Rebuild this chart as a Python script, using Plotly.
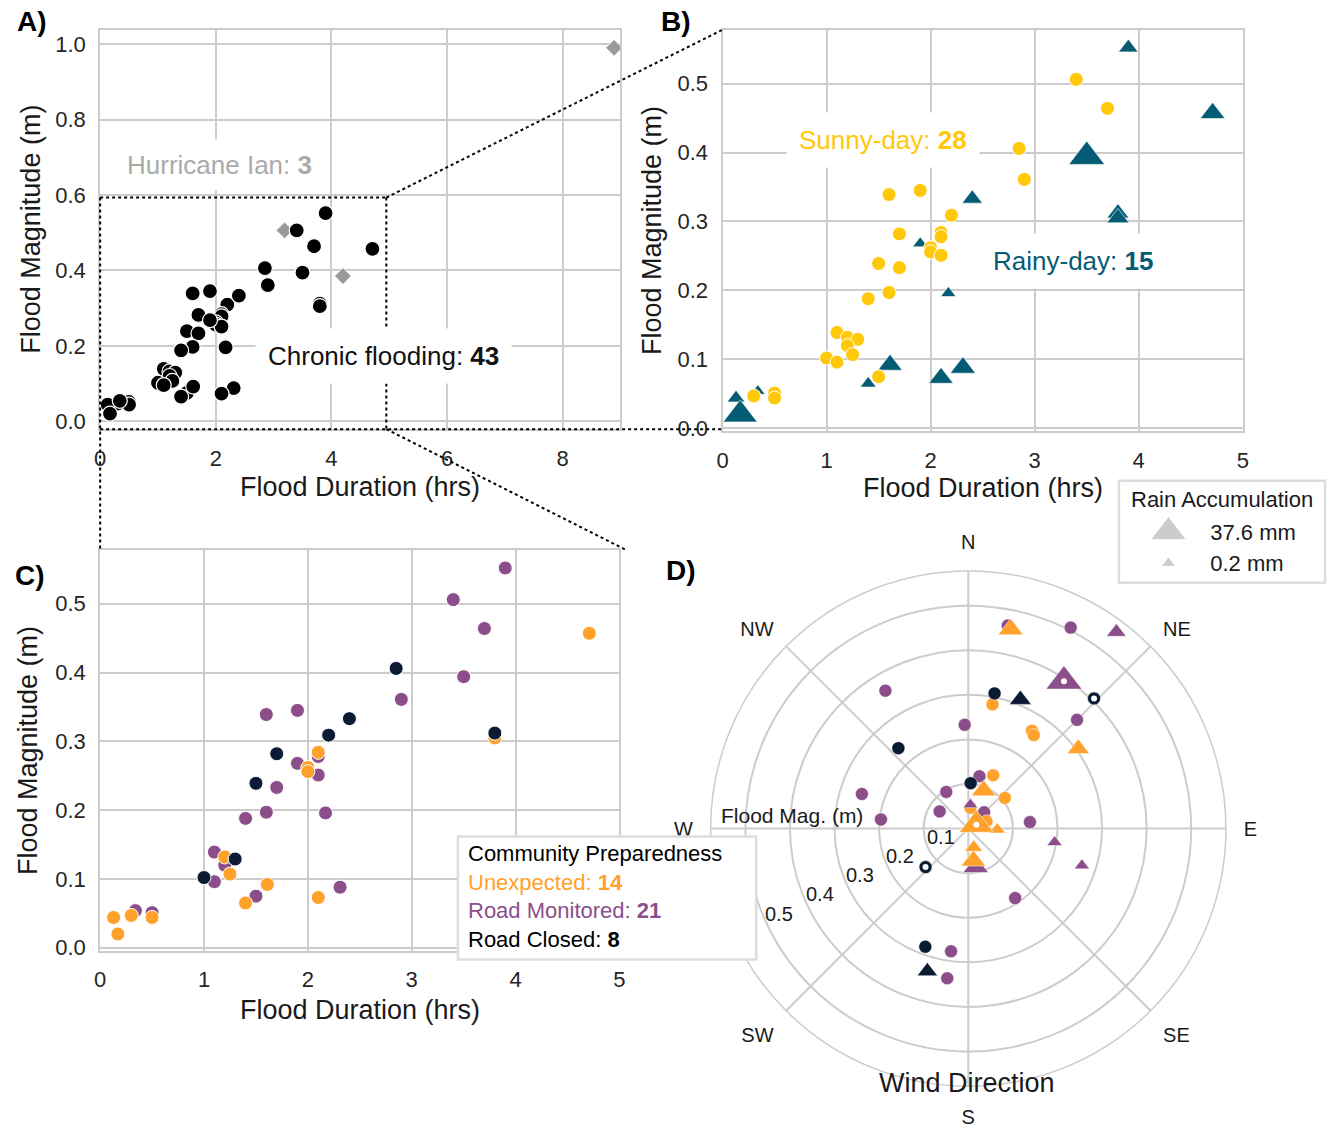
import math
import plotly.graph_objects as go

W, H = 1338, 1129

# ---------------- data ----------------
# 43 chronic flooding events (28 sunny-day first, then 15 rainy-day)
duration = [3.40, 3.70, 2.85, 2.90, 1.90, 1.60, 2.20, 1.70, 2.10, 2.10, 2.00, 2.00, 2.10, 1.50,
            1.70, 1.60, 1.40, 1.10, 1.20, 1.30, 1.20, 1.25, 1.00, 1.10, 1.50, 0.30, 0.50, 0.50,
            3.90, 4.71, 3.50, 3.80, 3.80, 2.40, 1.90, 2.17, 1.61, 2.31, 2.10, 1.40, 0.13, 0.17, 0.34]
magnitude = [0.506, 0.464, 0.406, 0.361, 0.345, 0.339, 0.309, 0.282, 0.284, 0.278, 0.262, 0.256, 0.251, 0.239,
             0.233, 0.197, 0.188, 0.139, 0.132, 0.129, 0.120, 0.107, 0.102, 0.096, 0.075, 0.047, 0.051, 0.044,
             0.552, 0.457, 0.394, 0.312, 0.305, 0.333, 0.268, 0.196, 0.092, 0.088, 0.073, 0.065, 0.044, 0.020, 0.054]
rain_mm = [0, 0, 0, 0, 0, 0, 0, 0, 0, 0, 0, 0, 0, 0,
           0, 0, 0, 0, 0, 0, 0, 0, 0, 0, 0, 0, 0, 0,
           6.2, 14.3, 37.6, 9.6, 10.0, 7.4, 1.0, 1.0, 13.6, 15.1, 13.6, 1.8, 4.0, 33.3, 0.2]
preparedness = ["Road Monitored", "Road Monitored", "Road Closed", "Road Monitored", "Road Monitored",
                "Road Monitored", "Road Closed", "Road Closed", "Unexpected", "Road Monitored",
                "Unexpected", "Unexpected", "Road Monitored", "Road Closed", "Road Monitored",
                "Road Monitored", "Road Monitored", "Road Monitored", "Unexpected", "Road Closed",
                "Road Monitored", "Unexpected", "Road Closed", "Road Monitored", "Road Monitored",
                "Unexpected", "Road Monitored", "Unexpected",
                "Road Monitored", "Unexpected", "Road Monitored", "Road Closed", "Unexpected",
                "Road Closed", "Road Monitored", "Road Monitored", "Unexpected", "Road Monitored",
                "Unexpected", "Unexpected", "Unexpected", "Unexpected", "Road Monitored"]
wind_dir = [27, 11, 44, 329, 45, 188, 11, 200, 11, 188, 33, 35, 288, 319,
            358, 276, 146, 84, 25, 228, 12, 50, 3, 329, 301, 6, 44, 68,
            37, 12, 33, 22, 54, 196, 108, 99, 22, 169, 171, 92, 164, 65, 5]
marked = [False, False, True, False, False, False, False, False, False, False, False, False, False, False,
          False, False, False, False, False, True, False, False, False, False, False, False, False, False,
          False, False, True, False, False, False, False, False, False, False, False, False, False, True, False]

# Hurricane Ian events
hurricane_duration = [3.19, 4.20, 8.89]
hurricane_magnitude = [0.506, 0.385, 0.990]

rain_legend_values = [37.6, 0.2]
prep_order = ["Unexpected", "Road Monitored", "Road Closed"]
radial_ticks = [0.1, 0.2, 0.3, 0.4, 0.5]
compass_vals = [0, 45, 90, 135, 180, 225, 270, 315]
compass_text = ["N", "NE", "E", "SE", "S", "SW", "W", "NW"]

# ---------------- styling ----------------
YELLOW = "#FFC80A"
TEAL = "#045C74"
ORANGE = "#FFA12B"
PURPLE = "#8B4E8A"
NAVY = "#0A1B33"
GRID = "#cccccc"
FONT = "Liberation Sans, Arial, sans-serif"
prep_color = {"Unexpected": ORANGE, "Road Monitored": PURPLE, "Road Closed": NAVY}


def rain_size(v):
    return 1.2 * math.sqrt(110 + 560 * (v - 0.2) / (37.6 - 0.2))


def px(x):
    return x / W


def py(y):
    return 1 - y / H


dom = {
    "A": ([95, 620], [30, 433]),
    "B": ([723, 1248], [30, 435]),
    "C": ([95, 619], [555, 959]),
}
rng = {
    "A": ([0, 9.0], [-0.021, 1.038]),
    "B": ([0, 5], [-0.004, 0.578]),
    "C": ([0, 5], [-0.004, 0.578]),
}
polar_box = ([711, 1231], [576, 1096])
r_max = 0.578

n = len(duration)
sunny = [i for i in range(n) if rain_mm[i] == 0]
rainy = [i for i in range(n) if rain_mm[i] > 0]

fig = go.Figure()

# ---- Panel A ----
fig.add_trace(go.Scatter(x=hurricane_duration, y=hurricane_magnitude, mode="markers",
                         marker=dict(symbol="diamond", size=13, color="#9a9a9a", opacity=1,
                                     line=dict(color="white", width=1)),
                         xaxis="x", yaxis="y"))
fig.add_trace(go.Scatter(x=duration, y=magnitude, mode="markers",
                         marker=dict(symbol="circle", size=15, color="black", opacity=1,
                                     line=dict(color="white", width=1.2)),
                         xaxis="x", yaxis="y"))

# ---- Panel B ----
fig.add_trace(go.Scatter(x=[duration[i] for i in rainy], y=[magnitude[i] for i in rainy], mode="markers",
                         marker=dict(symbol="triangle-up", color=TEAL, opacity=1,
                                     size=[rain_size(rain_mm[i]) for i in rainy],
                                     line=dict(color="white", width=0.6)),
                         xaxis="x2", yaxis="y2"))
fig.add_trace(go.Scatter(x=[duration[i] for i in sunny], y=[magnitude[i] for i in sunny], mode="markers",
                         marker=dict(symbol="circle", size=14, color=YELLOW, opacity=1,
                                     line=dict(color="white", width=1)),
                         xaxis="x2", yaxis="y2"))

# ---- Panel C ----
for cat in ["Road Monitored", "Unexpected", "Road Closed"]:
    idx = [i for i in range(n) if preparedness[i] == cat]
    fig.add_trace(go.Scatter(x=[duration[i] for i in idx], y=[magnitude[i] for i in idx], mode="markers",
                             marker=dict(symbol="circle", size=14, color=prep_color[cat], opacity=1,
                                         line=dict(color="white", width=1)),
                             xaxis="x3", yaxis="y3"))

# ---- Panel D (polar) ----
for cat in ["Road Monitored", "Unexpected", "Road Closed"]:
    idx = [i for i in sunny if preparedness[i] == cat]
    fig.add_trace(go.Scatterpolar(r=[magnitude[i] for i in idx], theta=[wind_dir[i] for i in idx],
                                  mode="markers",
                                  marker=dict(symbol="circle", size=13, color=prep_color[cat], opacity=1,
                                              line=dict(color="white", width=0.5)),
                                  subplot="polar"))
for cat in ["Road Monitored", "Unexpected", "Road Closed"]:
    idx = [i for i in rainy if preparedness[i] == cat]
    fig.add_trace(go.Scatterpolar(r=[magnitude[i] for i in idx], theta=[wind_dir[i] for i in idx],
                                  mode="markers",
                                  marker=dict(symbol="triangle-up", color=prep_color[cat], opacity=1,
                                              size=[rain_size(rain_mm[i]) for i in idx],
                                              line=dict(color="white", width=0.5)),
                                  subplot="polar"))
midx = [i for i in range(n) if marked[i]]
fig.add_trace(go.Scatterpolar(r=[magnitude[i] for i in midx], theta=[wind_dir[i] for i in midx],
                              mode="markers",
                              marker=dict(symbol="circle", size=6, color="white", opacity=1),
                              subplot="polar"))

# ---- Rain accumulation legend glyphs ----
fig.add_trace(go.Scatter(x=[0, 0], y=[f"{v} mm" for v in rain_legend_values], mode="markers",
                         marker=dict(symbol="triangle-up", color="#cccccc", opacity=1,
                                     size=[rain_size(v) for v in rain_legend_values]),
                         xaxis="x4", yaxis="y4"))


def axis(panel, which, dtick, fmt):
    xd, yd = dom[panel]
    xr, yr = rng[panel]
    if which == "x":
        d = [px(xd[0]), px(xd[1])]
        r = xr
    else:
        d = [py(yd[1]), py(yd[0])]
        r = yr
    return dict(domain=d, range=r, dtick=dtick, tick0=0, tickformat=fmt,
                showgrid=True, gridcolor=GRID, gridwidth=2,
                showline=True, linecolor=GRID, linewidth=2, mirror=True,
                zeroline=False, ticks="", ticklabelstandoff=8,
                tickfont=dict(size=22, color="#262626", family=FONT))


layout = dict(
    width=W, height=H, margin=dict(l=0, r=0, t=0, b=0),
    paper_bgcolor="white", plot_bgcolor="rgba(0,0,0,0)", showlegend=False,
    font=dict(family=FONT, size=22, color="#222222"),
    xaxis=dict(axis("A", "x", 2, "d"), anchor="y"),
    yaxis=dict(axis("A", "y", 0.2, ".1f"), anchor="x"),
    xaxis2=dict(axis("B", "x", 1, "d"), anchor="y2"),
    yaxis2=dict(axis("B", "y", 0.1, ".1f"), anchor="x2"),
    xaxis3=dict(axis("C", "x", 1, "d"), anchor="y3"),
    yaxis3=dict(axis("C", "y", 0.1, ".1f"), anchor="x3"),
    xaxis4=dict(domain=[px(1150), px(1196)], range=[-1, 1], visible=False, anchor="y4"),
    yaxis4=dict(domain=[py(584), py(521)], type="category",
                categoryorder="array", categoryarray=[f"{v} mm" for v in rain_legend_values[::-1]],
                range=[-0.5, 1.5], anchor="x4", side="right", showgrid=False, showline=False,
                zeroline=False, ticks="", ticklabelstandoff=18,
                tickfont=dict(size=22, color="#1a1a1a", family=FONT)),
    polar=dict(
        domain=dict(x=[px(polar_box[0][0]), px(polar_box[0][1])],
                    y=[py(polar_box[1][1]), py(polar_box[1][0])]),
        bgcolor="white",
        angularaxis=dict(rotation=90, direction="clockwise", tickmode="array",
                         tickvals=compass_vals, ticktext=compass_text,
                         showgrid=True, gridcolor=GRID, gridwidth=1.5,
                         showline=True, linecolor=GRID, linewidth=1.5,
                         ticks="outside", ticklen=13, tickcolor="rgba(0,0,0,0)",
                         tickfont=dict(size=20, color="#1a1a1a", family=FONT)),
        radialaxis=dict(range=[0, r_max], tickmode="array", tickvals=radial_ticks,
                        showgrid=True, gridcolor=GRID, gridwidth=1.5, showline=False,
                        showticklabels=False, ticks=""),
    ),
)
fig.update_layout(**layout)


# ---- helpers to convert A/B/C data coords to paper ----
def to_paper(panel, x, y):
    xd, yd = dom[panel]
    xr, yr = rng[panel]
    pxv = xd[0] + (x - xr[0]) / (xr[1] - xr[0]) * (xd[1] - xd[0])
    pyv = yd[1] - (y - yr[0]) / (yr[1] - yr[0]) * (yd[1] - yd[0])
    return pxv, pyv


shapes = []
dot = dict(color="black", width=2, dash="dot")
zoom_x = (0, 4.95)
zoom_y = (rng["A"][1][0], 0.593)
bl = to_paper("A", zoom_x[0], zoom_y[0])
tl = to_paper("A", zoom_x[0], zoom_y[1])
tr = to_paper("A", zoom_x[1], zoom_y[1])
br = to_paper("A", zoom_x[1], zoom_y[0])
B_tl = (dom["B"][0][0], dom["B"][1][0])
B_bl = (dom["B"][0][0], bl[1])
C_tl = (dom["C"][0][0], dom["C"][1][0])
C_tr = (dom["C"][0][1] + 7, dom["C"][1][0])
for (a, b) in [(tl, tr), (tr, br), (bl, B_bl), (tl, C_tl), (tr, B_tl), (br, C_tr)]:
    shapes.append(dict(type="line", xref="paper", yref="paper", x0=px(a[0]), y0=py(a[1]),
                       x1=px(b[0]), y1=py(b[1]), line=dot, layer="above"))

# community preparedness box
shapes.append(dict(type="rect", xref="paper", yref="paper", x0=px(456), x1=px(757), y0=py(968), y1=py(844),
                   fillcolor="white", line=dict(color="#dddddd", width=2.5), layer="above"))
# rain accumulation box
shapes.append(dict(type="rect", xref="paper", yref="paper", x0=px(1123), x1=px(1331), y0=py(588), y1=py(485),
                   fillcolor="white", line=dict(color="#dddddd", width=2.5), layer="below"))
fig.update_layout(shapes=shapes)

ann = []


def text(x, y, s, size, color="#1a1a1a", bg=None, angle=0, xanchor="center", align="center", pad=0):
    d = dict(xref="paper", yref="paper", x=px(x), y=py(y), text=s, showarrow=False,
             font=dict(size=size, color=color, family=FONT), xanchor=xanchor, yanchor="middle",
             textangle=angle, align=align)
    if bg:
        d.update(bgcolor=bg, borderpad=pad)
    ann.append(d)


count = {c: preparedness.count(c) for c in prep_order}
# panel letters
text(26, 22, "<b>A)</b>", 28, "black")
text(676, 22, "<b>B)</b>", 28, "black")
text(24, 581, "<b>C)</b>", 28, "black")
text(681, 576, "<b>D)</b>", 28, "black")
# axis titles
text(357, 491, "Flood Duration (hrs)", 27)
text(986, 492, "Flood Duration (hrs)", 27)
text(357, 1019, "Flood Duration (hrs)", 27)
text(25, 231, "Flood Magnitude (m)", 27, angle=-90)
text(652, 233, "Flood Magnitude (m)", 27, angle=-90)
text(23, 757, "Flood Magnitude (m)", 27, angle=-90)
# group annotations
text(215, 166, f"Hurricane Ian: <b>{len(hurricane_duration)}</b>", 26, "#aaaaaa", bg="white", pad=10)
text(381, 359, f"Chronic flooding: <b>{n}</b>", 26, "#111111", bg="white", pad=12)
text(885, 141, f"Sunny-day: <b>{len(sunny)}</b>", 26, YELLOW, bg="white", pad=12)
text(1077, 263, f"Rainy-day: <b>{len(rainy)}</b>", 26, TEAL, bg="white", pad=12)
# community preparedness legend
leg = ("Community Preparedness<br>"
       f"<span style='color:{ORANGE}'>Unexpected: <b>{count['Unexpected']}</b></span><br>"
       f"<span style='color:{PURPLE}'>Road Monitored: <b>{count['Road Monitored']}</b></span><br>"
       f"<span style='color:black'>Road Closed: <b>{count['Road Closed']}</b></span>")
text(464, 905, leg, 22, "black", xanchor="left", align="left")
# rain legend title
text(1227, 504, "Rain Accumulation", 22, "#1a1a1a")

# radial tick labels, placed along a ray (matplotlib-style rlabel position)
cx = (polar_box[0][0] + polar_box[0][1]) / 2
cy = (polar_box[1][0] + polar_box[1][1]) / 2
pix_per_unit = (polar_box[0][1] - polar_box[0][0]) / 2 / r_max
ray = math.radians(25.3)
for v in radial_ticks:
    d = pix_per_unit * v - 16
    lx = cx - d * math.cos(ray) - 1.7
    ly = cy + d * math.sin(ray) - 3.6
    text(lx, ly, f"{v:.1f}", 20, "#1a1a1a")

# polar labels
text(793, 823, "Flood Mag. (m)", 21, "#1a1a1a")
text(970, 1093, "Wind Direction", 27, "#1a1a1a")
fig.update_layout(annotations=ann)

fig.write_html("out.html", config={"displayModeBar": False},
               post_script="document.body.style.margin='0';document.body.style.overflow='hidden';")
